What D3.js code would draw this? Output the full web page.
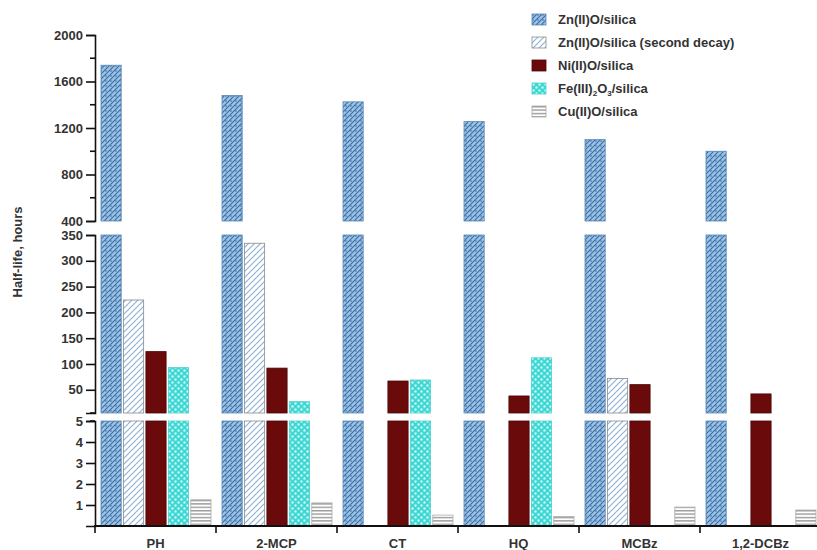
<!DOCTYPE html>
<html><head><meta charset="utf-8">
<script src="https://cdn.jsdelivr.net/npm/d3@7"></script>
<style>body{margin:0;background:#fff}svg{display:block}text{font-family:"Liberation Sans",Arial,sans-serif}</style>
</head><body>
<svg id="c" width="817" height="550"></svg>
<script>
const categories = ["PH","2-MCP","CT","HQ","MCBz","1,2-DCBz"];
const seriesNames = ["Zn(II)O/silica","Zn(II)O/silica (second decay)","Ni(II)O/silica","Fe(III)2O3/silica","Cu(II)O/silica"];
const znValues     = [1740, 1480, 1425, 1255, 1100, 1000];
const zn2Values    = [224, 334, null, null, 72, null];
const niValues     = [124, 92, 67, 38, 60, 42];
const feValues     = [93, 27, 69, 112, null, null];
const cuValues     = [1.25, 1.1, 0.52, 0.45, 0.9, 0.76];
const bottomTicks  = [1,2,3,4,5];
const middleTicks  = [50,100,150,200,250,300,350];
const topTicks     = [400,800,1200,1600,2000];
const topMinor     = [600,1000,1400,1800];

const series = [znValues, zn2Values, niValues, feValues, cuValues];
const svg = d3.select("#c");
const defs = svg.append("defs");

// patterns
const pZn = defs.append("pattern").attr("id","pZn").attr("patternUnits","userSpaceOnUse").attr("width",5).attr("height",5);
pZn.append("rect").attr("width",5).attr("height",5).attr("fill","#9cc4e6");
pZn.append("path").attr("d","M-1,1 L1,-1 M0,5 L5,0 M4,6 L6,4").attr("stroke","#3a6ba3").attr("stroke-width",1.1);
pZn.append("circle").attr("cx",1).attr("cy",1).attr("r",0.8).attr("fill","#3a6ba3");

const pZn2 = defs.append("pattern").attr("id","pZn2").attr("patternUnits","userSpaceOnUse").attr("width",6).attr("height",6);
pZn2.append("rect").attr("width",6).attr("height",6).attr("fill","#fff");
pZn2.append("path").attr("d","M-1,1 L1,-1 M0,6 L6,0 M5,7 L7,5").attr("stroke","#8fb2d6").attr("stroke-width",1.2);

const pFe = defs.append("pattern").attr("id","pFe").attr("patternUnits","userSpaceOnUse").attr("width",6).attr("height",6);
pFe.append("rect").attr("width",6).attr("height",6).attr("fill","#3ed8d4");
pFe.append("rect").attr("x",0.5).attr("y",0.5).attr("width",2).attr("height",2).attr("fill","#e8ffff");
pFe.append("rect").attr("x",3.5).attr("y",3.5).attr("width",2).attr("height",2).attr("fill","#e8ffff");

const pCu = defs.append("pattern").attr("id","pCu").attr("patternUnits","userSpaceOnUse").attr("width",4).attr("height",3.4);
pCu.append("rect").attr("width",4).attr("height",3.4).attr("fill","#fff");
pCu.append("rect").attr("y",0).attr("width",4).attr("height",1.4).attr("fill","#9a9a9a");

const fills = ["url(#pZn)","url(#pZn2)","#6b0a0a","url(#pFe)","url(#pCu)"];
const strokes = ["#5a88b8","#8a8a8a","#4a0505","#4fcfcf","#aaaaaa"];

const xLeft = 95, xRight = 821;
const x0 = d3.scaleBand().domain(categories).range([xLeft, xRight]);
const x1 = d3.scaleBand().domain(d3.range(5)).range([6, 116]).paddingInner(0.1);

const segs = [
  {scale: d3.scaleLinear().domain([0,5]).range([526,421]), ticks: bottomTicks, minor: [5]},
  {scale: d3.scaleLinear().domain([5,350]).range([413,235]), ticks: middleTicks, minor: [5]},
  {scale: d3.scaleLinear().domain([400,2000]).range([221,35]), ticks: topTicks, minor: topMinor}
];

// bars
series.forEach((vals, si) => {
  vals.forEach((v, ci) => {
    if (v == null) return;
    segs.forEach(seg => {
      const [lo, hi] = seg.scale.domain();
      if (v <= lo) return;
      const top = seg === segs[2] ? v : Math.min(v, hi);
      const y0 = seg.scale(lo), y1 = seg.scale(top);
      svg.append("rect")
        .attr("x", x0(categories[ci]) + x1(si))
        .attr("y", y1)
        .attr("width", x1.bandwidth())
        .attr("height", y0 - y1)
        .attr("fill", fills[si])
        .attr("stroke", strokes[si])
        .attr("stroke-width", 0.8);
    });
  });
});

// y axes segments
segs.forEach(seg => {
  const ax = d3.axisLeft(seg.scale).tickValues(seg.ticks).tickSize(9).tickPadding(3).tickFormat(d3.format("d"));
  const g = svg.append("g").attr("transform", `translate(${xLeft},0)`).call(ax);
  g.select(".domain").attr("stroke","#111").attr("stroke-width",1.6);
  g.selectAll(".tick line").attr("stroke","#111").attr("stroke-width",1.6);
  g.selectAll("text").attr("font-size",13).attr("font-weight","bold").attr("fill","#333");
  seg.minor.forEach(m => {
    svg.append("line").attr("x1",xLeft-5).attr("x2",xLeft).attr("y1",seg.scale(m)).attr("y2",seg.scale(m))
      .attr("stroke","#111").attr("stroke-width",1.6);
  });
});

// x axis
const gx = svg.append("g").attr("transform","translate(0,526)");
gx.append("line").attr("x1",xLeft-1).attr("x2",817).attr("y1",0).attr("y2",0).attr("stroke","#111").attr("stroke-width",1.8);
categories.forEach(c => {
  gx.append("line").attr("x1",x0(c)).attr("x2",x0(c)).attr("y1",0).attr("y2",7).attr("stroke","#111").attr("stroke-width",1.6);
  gx.append("text").attr("x",x0(c)+x0.bandwidth()/2).attr("y",22).attr("text-anchor","middle")
    .attr("font-size",13).attr("font-weight","bold").attr("fill","#333").text(c);
});

// y label
svg.append("text").attr("transform","translate(22,252) rotate(-90)").attr("text-anchor","middle")
  .attr("font-size",13).attr("font-weight","bold").attr("fill","#333").text("Half-life, hours");

// legend
const lg = svg.append("g").attr("transform","translate(532,14)");
const rowH = 23;
seriesNames.forEach((n, i) => {
  const r = lg.append("g").attr("transform",`translate(0,${i*rowH})`);
  r.append("rect").attr("x",0).attr("y",0).attr("width",14).attr("height",11)
    .attr("fill",fills[i]).attr("stroke",strokes[i]).attr("stroke-width",0.8);
  const t = r.append("text").attr("x",26).attr("y",10).attr("font-size",13).attr("font-weight","bold").attr("fill","#333");
  if (i === 3) {
    t.append("tspan").text("Fe(III)");
    t.append("tspan").attr("font-size",8).attr("dy",3).text("2");
    t.append("tspan").attr("dy",-3).text("O");
    t.append("tspan").attr("font-size",8).attr("dy",3).text("3");
    t.append("tspan").attr("dy",-3).text("/silica");
  } else {
    t.text(n);
  }
});
</script>
</body></html>
